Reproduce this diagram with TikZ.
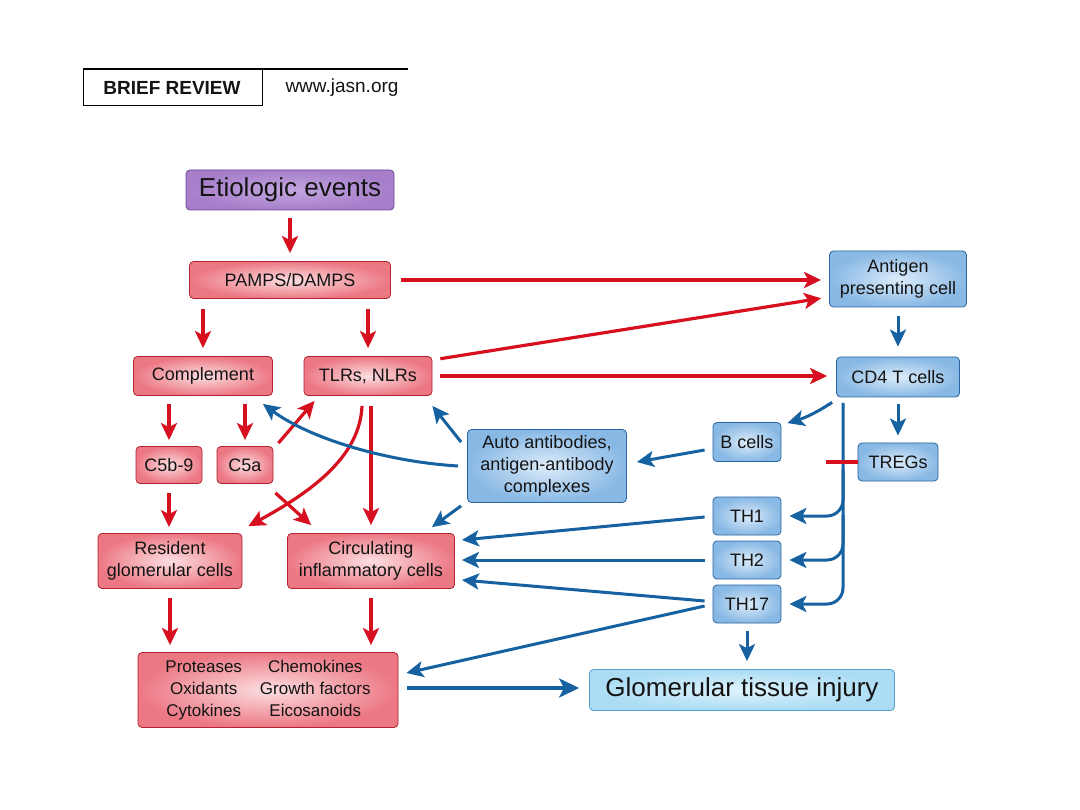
\documentclass[tikz,border=0pt]{standalone}
\usepackage{fontspec}
\setmainfont{Liberation Sans}
\usetikzlibrary{arrows.meta,calc}
\definecolor{ared}{RGB}{214,16,30}
\definecolor{ablue}{RGB}{22,98,160}
\definecolor{rin}{RGB}{252,222,224}
\definecolor{rout}{RGB}{236,120,132}
\definecolor{rborder}{RGB}{178,34,48}
\definecolor{bin}{RGB}{220,236,250}
\definecolor{bout}{RGB}{136,184,228}
\definecolor{bborder}{RGB}{40,100,160}
\definecolor{pin}{RGB}{196,166,224}
\definecolor{pout}{RGB}{166,126,202}
\definecolor{pborder}{RGB}{110,70,150}
\definecolor{gin}{RGB}{222,243,252}
\definecolor{gout}{RGB}{170,220,244}
\definecolor{gborder}{RGB}{80,160,210}
\definecolor{txt}{RGB}{20,20,20}
\tikzset{
  boxbase/.style={line width=0.8pt, rounded corners=4pt, text=txt, align=center, inner sep=0pt, font=\fontsize{18}{22}\selectfont},
  rbox/.style={boxbase, draw=rborder, inner color=rin, outer color=rout},
  bbox/.style={boxbase, draw=bborder, inner color=bin, outer color=bout},
  rarr/.style={draw=ared, line width=3.2pt, -{Stealth[length=17pt,width=16pt,inset=4pt]}},
  barr/.style={draw=ablue, line width=3pt, -{Stealth[length=17pt,width=16pt,inset=4pt]}},
}
\begin{document}
\begin{tikzpicture}[x=1pt,y=-1pt]
\useasboundingbox[fill=white] (0,0) rectangle (1080,810);
% header
\draw[line width=1.6pt] (83,69) -- (408,69);
\draw[line width=0.8pt] (83,69) -- (83,105) -- (262,105) -- (262,69);
\node[font=\bfseries\fontsize{19}{22}\selectfont, text=txt] (brief) at (172,88) {BRIEF REVIEW};
\node[font=\fontsize{19}{22}\selectfont, text=txt] (jasn) at (342,88) {www.jasn.org};

% nodes
\node[boxbase, draw=pborder, inner color=pin, outer color=pout, minimum width=208, minimum height=40, font=\fontsize{26}{30}\selectfont] (etio) at (290,190) {Etiologic events};
\node[rbox, minimum width=201, minimum height=37] (pamps) at (290,280) {PAMPS/DAMPS};
\node[bbox, minimum width=137, minimum height=56] (apc) at (898,279) {Antigen\\presenting cell};
\node[rbox, minimum width=139, minimum height=39] (compl) at (203,376) {Complement};
\node[rbox, minimum width=128, minimum height=39] (tlr) at (368,376) {TLRs, NLRs};
\node[bbox, minimum width=123, minimum height=40] (cd4) at (898,377) {CD4 T cells};
\node[rbox, minimum width=66, minimum height=37] (c59) at (169,465) {C5b-9};
\node[rbox, minimum width=56, minimum height=37] (c5a) at (245,465) {C5a};
\node[bbox, minimum width=159, minimum height=73] (auto) at (547,466) {Auto antibodies,\\antigen-antibody\\complexes};
\node[bbox, minimum width=68, minimum height=39] (bc) at (747,442) {B cells};
\node[bbox, minimum width=80, minimum height=38] (treg) at (898,462) {TREGs};
\node[bbox, minimum width=68, minimum height=38] (th1) at (747,516) {TH1};
\node[bbox, minimum width=68, minimum height=38] (th2) at (747,560) {TH2};
\node[bbox, minimum width=68, minimum height=38] (th17) at (747,604) {TH17};
\node[rbox, minimum width=144, minimum height=55] (res) at (170,561) {Resident\\glomerular cells};
\node[rbox, minimum width=167, minimum height=55] (circ) at (371,561) {Circulating\\inflammatory cells};
\node[rbox, minimum width=260, minimum height=75, font=\fontsize{17}{22}\selectfont] (prot) at (268,690)
  {\begin{tabular}{@{}c@{\hspace{18pt}}c@{}}Proteases & Chemokines\\ Oxidants & Growth factors\\ Cytokines & Eicosanoids\end{tabular}};
\node[boxbase, draw=gborder, inner color=gin, outer color=gout, minimum width=305, minimum height=41, font=\fontsize{26}{30}\selectfont] (glom) at (742,690) {Glomerular tissue injury};

% red arrows
\draw[rarr, shorten <=8pt, shorten >=8pt] (etio.south) -- (pamps.north);
\draw[rarr, shorten <=10pt, shorten >=8pt] (pamps.south -| compl.north) -- (compl.north);
\draw[rarr, shorten <=10pt, shorten >=8pt] (pamps.south -| tlr.north) -- (tlr.north);
\draw[rarr, shorten <=10pt, shorten >=8pt] (pamps.east) -- (pamps.east -| apc.west);
\draw[rarr, shorten <=8pt, shorten >=8pt] ([shift={(0,-16)}]tlr.east) -- ([shift={(0,18)}]apc.west);
\draw[rarr, shorten <=8pt, shorten >=9pt] (tlr.east) -- (tlr.east -| cd4.west);
\draw[rarr, shorten <=8pt, shorten >=6pt] (compl.south -| c59.north) -- (c59.north);
\draw[rarr, shorten <=8pt, shorten >=6pt] (compl.south -| c5a.north) -- (c5a.north);
\draw[rarr] ([shift={(5,-3)}]c5a.north east) -- ([shift={(11,5)}]tlr.south west);
\draw[rarr] ([shift={(2,9)}]c5a.south east) -- ([shift={(24,-8)}]circ.north west);
\draw[rarr] ([shift={(-6,10)}]tlr.south) .. controls (360,455) and (315,490) .. ([shift={(6,-7)}]res.north east);
\draw[rarr, shorten <=10pt, shorten >=8pt] (tlr.south -| circ.north) -- (circ.north);
\draw[rarr, shorten <=9pt, shorten >=6pt] (c59.south) -- (c59.south |- res.north);
\draw[rarr, shorten <=9pt, shorten >=7pt] (res.south) -- (res.south |- prot.north);
\draw[rarr, shorten <=9pt, shorten >=7pt] (circ.south) -- (circ.south |- prot.north);

% blue arrows
\draw[barr, shorten <=9pt, shorten >=10pt] (apc.south) -- (cd4.north);
\draw[barr, shorten <=7pt, shorten >=7pt] (cd4.south) -- (treg.north);
\draw[barr] ([shift={(-4,5)}]cd4.south west) to[bend left=8] ([shift={(6,1)}]bc.north east);
\draw[barr] ([shift={(-8,8)}]bc.west) -- ([shift={(10,-4)}]auto.east);
\draw[barr] ([shift={(-9,0)}]auto.west) .. controls (390,462) and (312,440) .. ([shift={(-10,8)}]compl.south east);
\draw[barr] ([shift={(-6,13)}]auto.north west) -- ([shift={(0,10)}]tlr.south east);
\draw[barr] ([shift={(-6,3)}]auto.south west) -- ([shift={(-23,-6)}]circ.north east);
\draw[barr] ([shift={(-8,1)}]th1.west) -- ([shift={(7,-21)}]circ.east);
\draw[barr] ([shift={(-8,0)}]th2.west) -- ([shift={(7,-1)}]circ.east);
\draw[barr] ([shift={(-8,-3)}]th17.west) -- ([shift={(7,19)}]circ.east);
\draw[barr] ([shift={(-8,2)}]th17.west) -- ([shift={(8,-17)}]prot.east);
\draw[barr, shorten <=8pt, shorten >=8pt] (th17.south) -- (th17.south |- glom.north);
\draw[barr, line width=4.4pt, -{Stealth[length=20pt,width=19pt,inset=5pt]}, shorten <=9pt, shorten >=10pt] ([shift={(0,-2)}]prot.east) -- ([shift={(0,-2)}]glom.west);

% CD4 bracket
\coordinate (brtop) at (843,403);
\coordinate (br1) at (843,470);
\coordinate (br2) at (843,515);
\draw[barr, rounded corners=16pt, shorten >=8pt] (brtop) |- (th17.east);
\draw[barr, rounded corners=16pt, shorten >=8pt] (br1) |- (th1.east);
\draw[barr, rounded corners=16pt, shorten >=8pt] (br2) |- (th2.east);

% TREG inhibition
\coordinate (inh) at (826,462);
\draw[draw=ared, line width=4.4pt] (inh) -- (treg.west);
\end{tikzpicture}
\end{document}
